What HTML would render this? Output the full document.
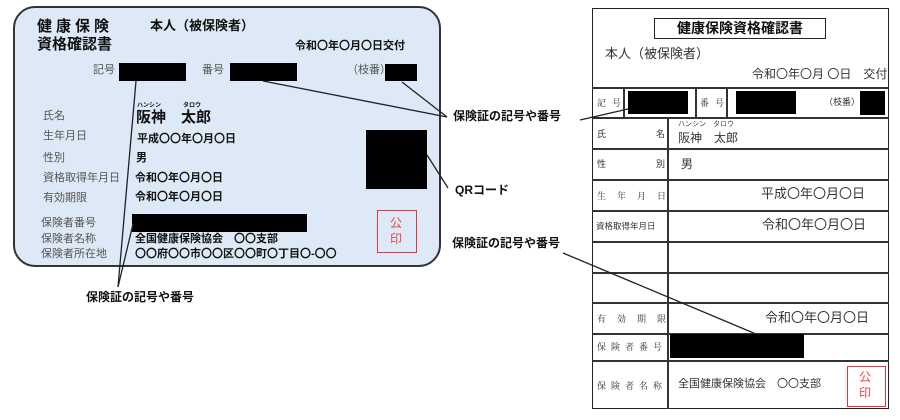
<!DOCTYPE html>
<html><head><meta charset="utf-8"><style>
*{margin:0;padding:0;box-sizing:border-box}
body{width:900px;height:420px;background:#fff;position:relative;overflow:hidden;font-family:"Liberation Sans","Noto Sans CJK JP",sans-serif;color:#111}
.a{position:absolute;white-space:nowrap;line-height:1}
.b{font-weight:bold}
.g{color:#555}
.k{position:absolute;background:#000}
.h{position:absolute;height:1.5px;background:#333}
.v{position:absolute;width:1.5px;background:#333}
.s{font-size:9px;letter-spacing:6px;color:#333;font-family:"Noto Serif CJK SC","Liberation Serif",serif}
</style></head><body>
<!-- left card -->
<div style="position:absolute;left:13px;top:6px;width:428px;height:261px;background:#dde9f6;border:2px solid #333;border-radius:22px"></div>
<div class="a b" style="left:37px;top:19px;font-size:15px;letter-spacing:4px">健康保険</div>
<div class="a b" style="left:37px;top:37px;font-size:15px">資格確認書</div>
<div class="a b" style="left:150px;top:19px;font-size:13px">本人（被保険者）</div>
<div class="a b" style="left:295px;top:41px;font-size:11px">令和〇年〇月〇日交付</div>
<div class="a g" style="left:93px;top:65px;font-size:11px">記号</div>
<div class="k" style="left:119px;top:63px;width:67px;height:18px"></div>
<div class="a g" style="left:202px;top:65px;font-size:11px">番号</div>
<div class="k" style="left:230px;top:63px;width:67px;height:18px"></div>
<div class="a g" style="left:347px;top:65px;font-size:11px">（枝番）</div>
<div class="k" style="left:385px;top:64px;width:32px;height:17px"></div>
<div class="a g" style="left:43px;top:111px;font-size:11px">氏名</div>
<div class="a b" style="left:137px;top:103px;font-size:6px">ハンシン</div>
<div class="a b" style="left:183px;top:103px;font-size:6px">タロウ</div>
<div class="a b" style="left:136px;top:110px;font-size:15px">阪神　太郎</div>
<div class="a g" style="left:43px;top:131px;font-size:11px">生年月日</div>
<div class="a b" style="left:137px;top:134px;font-size:11px">平成〇〇年〇月〇日</div>
<div class="a g" style="left:43px;top:153px;font-size:11px">性別</div>
<div class="a b" style="left:136px;top:153px;font-size:11px">男</div>
<div class="a g" style="left:43px;top:173px;font-size:11px">資格取得年月日</div>
<div class="a b" style="left:135px;top:173px;font-size:11px">令和〇年〇月〇日</div>
<div class="a g" style="left:43px;top:193px;font-size:11px">有効期限</div>
<div class="a b" style="left:135px;top:192px;font-size:11px">令和〇年〇月〇日</div>
<div class="k" style="left:366px;top:130px;width:61px;height:59px"></div>
<div class="a g" style="left:41px;top:218px;font-size:11px">保険者番号</div>
<div class="k" style="left:132px;top:214px;width:175px;height:18px"></div>
<div class="a g" style="left:41px;top:234px;font-size:11px">保険者名称</div>
<div class="a b" style="left:135px;top:234px;font-size:11px">全国健康保険協会　〇〇支部</div>
<div class="a g" style="left:41px;top:249px;font-size:11px">保険者所在地</div>
<div class="a b" style="left:135px;top:249px;font-size:11px">〇〇府〇〇市〇〇区〇〇町〇丁目〇-〇〇</div>
<div style="position:absolute;left:377px;top:210px;width:40px;height:43px;border:1.5px solid #e33"></div>
<div class="a" style="left:390px;top:215px;font-size:12px;color:#e44;line-height:16px;width:14px;white-space:normal">公印</div>

<!-- right doc -->
<div style="position:absolute;left:592px;top:8px;width:297px;height:401px;border:1.5px solid #222"></div>
<div style="position:absolute;left:654px;top:18px;width:172px;height:21px;border:1.5px solid #222"></div>
<div class="a b" style="left:654px;top:21px;width:172px;text-align:center;font-size:14px">健康保険資格確認書</div>
<div class="a" style="left:605px;top:47px;font-size:13px;color:#333">本人（被保険者）</div>
<div class="a" style="left:752px;top:68px;font-size:12px;color:#333">令和〇年〇月 〇日　交付</div>
<div class="h" style="left:592px;top:87px;width:297px"></div>
<div class="h" style="left:592px;top:117px;width:297px"></div>
<div class="h" style="left:592px;top:148px;width:297px"></div>
<div class="h" style="left:592px;top:179px;width:297px"></div>
<div class="h" style="left:592px;top:210px;width:297px"></div>
<div class="h" style="left:592px;top:241px;width:297px"></div>
<div class="h" style="left:592px;top:272px;width:297px"></div>
<div class="h" style="left:592px;top:302px;width:297px"></div>
<div class="h" style="left:592px;top:333px;width:297px"></div>
<div class="h" style="left:592px;top:360px;width:297px"></div>
<div class="v" style="left:667px;top:117px;height:292px"></div>
<div class="v" style="left:623px;top:87px;height:30px"></div>
<div class="v" style="left:695px;top:87px;height:30px"></div>
<div class="v" style="left:726px;top:87px;height:30px"></div>
<div class="a s" style="left:597px;top:98px">記号</div>
<div class="k" style="left:628px;top:91px;width:60px;height:23px"></div>
<div class="a s" style="left:700px;top:98px">番号</div>
<div class="k" style="left:736px;top:91px;width:60px;height:23px"></div>
<div class="a" style="left:824px;top:98px;font-size:9px;color:#333">（枝番）</div>
<div class="k" style="left:860px;top:91px;width:25px;height:24px"></div>
<div class="a" style="left:597px;top:130px;font-size:9px;color:#333">氏</div>
<div class="a" style="left:656px;top:130px;font-size:9px;color:#333">名</div>
<div class="a" style="left:678px;top:121px;font-size:7px;color:#444">ハンシン　タロウ</div>
<div class="a" style="left:678px;top:132px;font-size:12px;color:#333">阪神　太郎</div>
<div class="a" style="left:597px;top:160px;font-size:9px;color:#333">性</div>
<div class="a" style="left:656px;top:160px;font-size:9px;color:#333">別</div>
<div class="a" style="left:681px;top:158px;font-size:12px;color:#333">男</div>
<div class="a s" style="left:597px;top:191px;letter-spacing:11px">生年月日</div>
<div class="a" style="left:761px;top:187px;font-size:13px;color:#333">平成〇年〇月〇日</div>
<div class="a" style="left:596px;top:222px;font-size:8.5px;color:#333">資格取得年月日</div>
<div class="a" style="left:762px;top:218px;font-size:13px;color:#333">令和〇年〇月〇日</div>
<div class="a s" style="left:597px;top:314px;letter-spacing:11px">有効期限</div>
<div class="a" style="left:765px;top:311px;font-size:13px;color:#333">令和〇年〇月〇日</div>
<div class="a s" style="left:597px;top:342px;letter-spacing:5px">保険者番号</div>
<div class="k" style="left:670px;top:334px;width:134px;height:24px"></div>
<div class="a s" style="left:597px;top:381px;letter-spacing:5px">保険者名称</div>
<div class="a" style="left:678px;top:379px;font-size:11px;color:#333">全国健康保険協会　〇〇支部</div>
<div style="position:absolute;left:847px;top:366px;width:39px;height:41px;border:1.5px solid #e33"></div>
<div class="a" style="left:859px;top:369px;font-size:12px;color:#e44;line-height:16px;width:14px;white-space:normal">公印</div>

<svg width="900" height="420" style="position:absolute;left:0;top:0">
<g stroke="#222" stroke-width="1.3" fill="none">
<line x1="136" y1="81" x2="118" y2="287"/>
<line x1="133" y1="224" x2="118" y2="287"/>
<line x1="263" y1="81" x2="447" y2="117"/>
<line x1="402" y1="82" x2="447" y2="117"/>
<line x1="427" y1="155" x2="448" y2="188"/>
<line x1="580" y1="120" x2="628" y2="109"/>
<line x1="563" y1="253" x2="756" y2="334"/>
</g></svg>
<div class="a b" style="left:86px;top:291px;font-size:12px">保険証の記号や番号</div>
<div class="a b" style="left:453px;top:110px;font-size:12px">保険証の記号や番号</div>
<div class="a b" style="left:455px;top:184px;font-size:12px">QRコード</div>
<div class="a b" style="left:452px;top:237px;font-size:12px">保険証の記号や番号</div>
</body></html>
